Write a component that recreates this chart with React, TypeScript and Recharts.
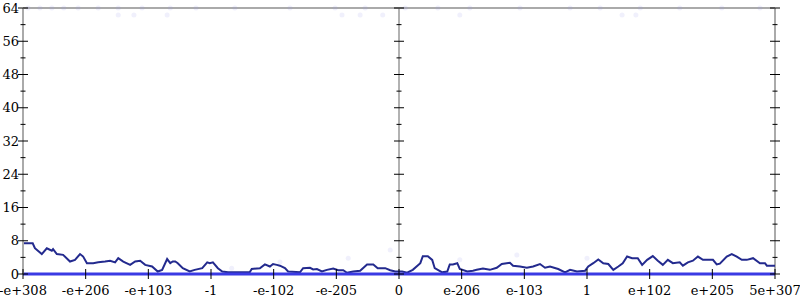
import React from "react";
import {
  ComposedChart,
  Line,
  Scatter,
  XAxis,
  YAxis,
  ReferenceLine,
} from "recharts";

// tick labels along the bottom (one per unit of the x scale)
const xTickLabels = [
  "-e+308", "-e+206", "-e+103", "-1", "-e-102", "-e-205", "0",
  "e-206", "e-103", "1", "e+102", "e+205", "5e+307",
];
const xTicks = xTickLabels.map((_, i) => i);
const yTicks = [0, 4, 8, 12, 16, 20, 24, 28, 32, 36, 40, 44, 48, 52, 56, 60, 64];

// main navy trace: [position, value]
const navyPoints: [number, number][] = [
  [0, 7.4], [0.155, 7.4], [0.19, 6.2], [0.3, 4.8], [0.38, 6.2], [0.46, 5.6],
  [0.48, 6.0], [0.54, 4.8], [0.64, 4.6], [0.75, 3.0], [0.83, 3.4], [0.91, 4.8],
  [0.96, 4.2], [1.02, 2.6], [1.12, 2.6], [1.2, 2.8], [1.31, 3.0], [1.39, 3.2],
  [1.47, 2.8], [1.52, 3.8], [1.6, 3.0], [1.71, 2.2], [1.79, 3.0], [1.87, 3.2],
  [1.95, 2.2], [2.06, 1.8], [2.15, 0.6], [2.22, 1.0], [2.3, 3.6], [2.35, 2.6],
  [2.39, 3.0], [2.43, 3.0], [2.47, 2.6], [2.55, 1.4], [2.66, 0.6], [2.74, 1.0],
  [2.86, 1.4], [2.94, 2.8], [2.98, 2.6], [3.03, 2.8], [3.11, 1.4], [3.18, 0.6],
  [3.27, 0.4], [3.41, 0.4], [3.62, 0.5], [3.65, 1.2], [3.78, 1.4], [3.86, 2.3],
  [3.94, 1.8], [3.99, 2.4], [4.05, 2.2], [4.1, 2.0], [4.18, 1.4], [4.23, 0.6],
  [4.42, 0.4], [4.47, 1.4], [4.58, 1.5], [4.63, 1.1], [4.69, 1.2], [4.77, 0.6],
  [4.85, 1.0], [4.95, 1.3], [5.03, 0.9], [5.11, 0.9], [5.17, 0.3], [5.27, 0.6],
  [5.38, 0.8], [5.49, 2.3], [5.59, 2.3], [5.66, 1.4], [5.78, 1.4], [5.86, 0.9],
  [5.94, 0.6], [6.05, 0.6], [6.13, 0.3], [6.22, 1.0], [6.34, 2.6], [6.38, 4.3],
  [6.46, 4.3], [6.53, 3.4], [6.57, 1.4], [6.69, 0.4], [6.77, 0.6], [6.81, 2.3],
  [6.86, 2.3], [6.93, 2.6], [6.97, 1.2], [7.09, 0.6], [7.18, 0.8], [7.24, 1.0],
  [7.34, 1.3], [7.45, 1.0], [7.56, 1.5], [7.64, 2.4], [7.77, 2.7], [7.82, 2.0],
  [7.93, 1.8], [8.04, 1.5], [8.14, 1.8], [8.25, 2.4], [8.33, 1.5], [8.41, 1.8],
  [8.54, 1.2], [8.65, 0.4], [8.73, 1.0], [8.84, 0.6], [8.97, 0.8], [9.02, 1.8],
  [9.1, 2.6], [9.18, 3.5], [9.26, 2.6], [9.34, 2.4], [9.42, 1.0], [9.5, 1.8],
  [9.57, 2.6], [9.64, 4.2], [9.72, 3.8], [9.81, 3.8], [9.88, 2.2], [9.96, 3.4],
  [10.05, 4.3], [10.13, 3.2], [10.21, 2.2], [10.29, 3.4], [10.37, 2.6], [10.48, 2.8],
  [10.53, 2.0], [10.61, 2.8], [10.69, 3.2], [10.77, 4.2], [10.85, 3.4], [11.01, 3.4],
  [11.07, 2.3], [11.12, 2.5], [11.23, 4.2], [11.31, 4.8], [11.39, 4.2], [11.47, 3.4],
  [11.55, 3.4], [11.65, 3.8], [11.76, 2.6], [11.84, 2.6], [11.87, 2.0], [12, 2.0],
];

// faint scattered dots
const topDotPos = [
  0.08, 0.27, 0.46, 0.65, 0.88, 1.2, 1.52, 1.9, 2.35, 2.76, 3.38, 4.26,
  4.98, 5.46, 6.1, 6.62, 7.13, 7.93, 8.73, 9.21, 9.85, 10.48, 11.15, 11.76,
];
const upperDotPos = [1.52, 1.77, 2.3, 5.09, 5.38, 5.74, 6.97, 9.56, 9.78];
const lowDots: [number, number][] = [
  [3.33, 1.4], [4.1, 2.9], [5.19, 3.8], [5.86, 5.8], [6.97, 3.4], [7.88, 4.6], [9.0, 3.8],
];

const navyData = navyPoints.map(([x, y]) => ({ x, y }));
const faintData = [
  ...topDotPos.map((x) => ({ x, y: 64 })),
  ...upperDotPos.map((x) => ({ x, y: 62.3 })),
  ...lowDots.map(([x, y]) => ({ x, y })),
];

const PLOT_LEFT = 23;
const PLOT_RIGHT = 775;
const PLOT_BOTTOM = 274;
const CENTER = (PLOT_LEFT + PLOT_RIGHT) / 2;
const FONT = "DejaVu Serif, Liberation Serif, serif";

const renderYTick = (props: any) => {
  const { y, payload } = props;
  const major = payload.value % 8 === 0;
  const h = major ? 5 : 2.5;
  return (
    <g key={`yt-${payload.value}`}>
      {[PLOT_LEFT, CENTER, PLOT_RIGHT].map((cx) => (
        <line key={cx} x1={cx - h} x2={cx + h} y1={y} y2={y} stroke="#000" strokeWidth={1} />
      ))}
      {major && (
        <text x={PLOT_LEFT - 4} y={y} dy={4.5} textAnchor="end" fontSize={13} style={{ fontFamily: FONT }} fill="#000">
          {payload.value}
        </text>
      )}
    </g>
  );
};

const renderXTick = (props: any) => {
  const { x, payload } = props;
  return (
    <g key={`xt-${payload.value}`}>
      <line x1={x} x2={x} y1={PLOT_BOTTOM - 5} y2={PLOT_BOTTOM + 5} stroke="#000" strokeWidth={1} />
      <text x={x} y={PLOT_BOTTOM + 21} textAnchor="middle" fontSize={13} style={{ fontFamily: FONT }} fill="#000">
        {xTickLabels[payload.value]}
      </text>
    </g>
  );
};

export default function App() {
  return (
    <div style={{ position: "absolute", left: 0, top: 0, width: 800, height: 300, background: "#fff" }}>
      <ComposedChart
        width={800}
        height={300}
        data={navyData}
        margin={{ top: 8, right: 25, left: 0, bottom: 0 }}
      >
        <XAxis
          type="number"
          dataKey="x"
          domain={[0, 12]}
          ticks={xTicks}
          interval={0}
          height={26}
          tickSize={0}
          tickMargin={0}
          axisLine={false}
          tickLine={false}
          tick={renderXTick}
        />
        <YAxis
          type="number"
          domain={[0, 64]}
          ticks={yTicks}
          interval={0}
          width={23}
          tickSize={0}
          tickMargin={0}
          axisLine={{ stroke: "#aaa", strokeWidth: 2 }}
          tickLine={false}
          tick={renderYTick}
        />
        <ReferenceLine y={64} stroke="#aaa" strokeWidth={2} />
        <ReferenceLine x={6} stroke="#999" strokeWidth={1.5} />
        <ReferenceLine x={12} stroke="#aaa" strokeWidth={2} />
        <Scatter
          data={faintData}
          dataKey="y"
          isAnimationActive={false}
          shape={(p: any) => <circle cx={p.cx} cy={p.cy} r={2.5} fill="#9a9ae8" fillOpacity={0.15} />}
        />
        <Line
          type="linear"
          dataKey="y"
          stroke="#232a8e"
          strokeWidth={2}
          dot={false}
          isAnimationActive={false}
        />
        <ReferenceLine y={0} stroke="#3a3ae4" strokeWidth={3} />
      </ComposedChart>
    </div>
  );
}
